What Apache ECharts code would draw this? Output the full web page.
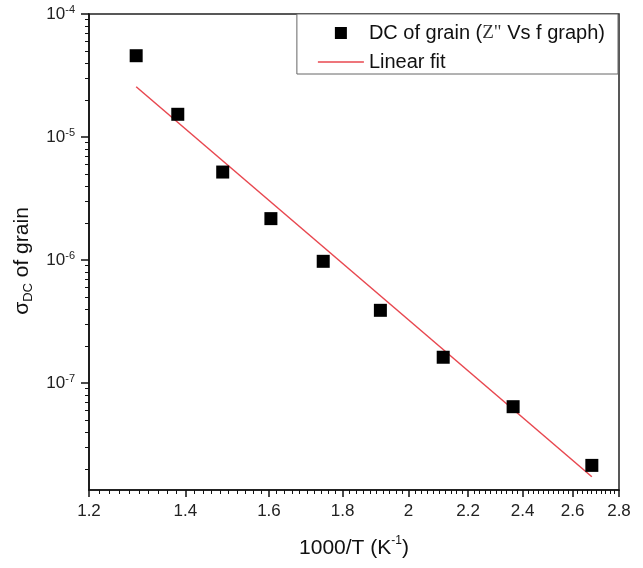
<!DOCTYPE html>
<html>
<head>
<meta charset="utf-8">
<script src="https://cdn.jsdelivr.net/npm/echarts@6/dist/echarts.min.js"></script>
<style>
  html, body { margin: 0; padding: 0; background: #fff; }
  #chart { width: 643px; height: 568px; }
</style>
</head>
<body>
<div id="chart"></div>
<script>
// Inverse temperature 1000/T (K^-1) and DC conductivity of the grain
const invT = [1.294, 1.383, 1.486, 1.605, 1.745, 1.912, 2.114, 2.364, 2.681];
const sigmaDC = [4.58e-5, 1.53e-5, 5.19e-6, 2.17e-6, 9.76e-7, 3.90e-7, 1.62e-7, 6.42e-8, 2.14e-8];

// Linear fit end points
const fitX = [1.294, 2.681];
const fitY = [2.56e-5, 1.73e-8];

// Axis ticks
const xMajorTicks = [1.2, 1.4, 1.6, 1.8, 2.0, 2.2, 2.4, 2.6, 2.8];
const yMajorTicks = [1e-7, 1e-6, 1e-5, 1e-4];
const xMin = 1.2, xMax = 2.8;
const yMin = 1.35e-8, yMax = 1e-4;

// minor ticks: every 0.02 on x, 2..9 per decade on y
const xMinorTicks = [];
for (let i = 1; i < 80; i++) {
  if (i % 10 !== 0) xMinorTicks.push(+(1.2 + i * 0.02).toFixed(3));
}
const yMinorTicks = [];
for (let e = -8; e <= -5; e++) {
  for (let k = 2; k <= 9; k++) {
    const v = +(k * Math.pow(10, e)).toPrecision(3);
    if (v >= yMin && v <= yMax) yMinorTicks.push(v);
  }
}

const seriesName = 'DC of grain (Z" Vs f graph)';
const fitName = 'Linear fit';
const FONT = '"Liberation Sans", Arial, sans-serif';
const FIT_COLOR = '#e8474f';

const chart = echarts.init(document.getElementById('chart'), null, { renderer: 'canvas' });

chart.setOption({
  animation: false,
  backgroundColor: '#fff',
  grid: { show: true, borderColor: '#222', borderWidth: 1.5, left: 89, top: 14, right: 24, bottom: 78 },
  legend: {
    right: 25,
    top: 14,
    orient: 'vertical',
    align: 'left',
    itemWidth: 46,
    itemHeight: 12,
    itemGap: 9,
    padding: [9, 13, 2, 21],
    borderColor: '#666',
    borderWidth: 1,
    backgroundColor: '#fff',
    data: [
      { name: seriesName, icon: 'path://M0,0L10,0L10,10L0,10Z' },
      { name: fitName, icon: 'path://M0,0L46,0L46,1.4L0,1.4Z' }
    ],
    textStyle: {
      fontFamily: FONT, fontSize: 20, color: '#111',
      rich: {
        z: { fontFamily: '"Liberation Serif", serif', fontSize: 19, color: '#333' }
      }
    },
    formatter: function (name) {
      if (name === seriesName) return 'DC of grain ({z|Z"} Vs f graph)';
      return name;
    }
  },
  xAxis: [
    {
      type: 'log', logBase: 10, min: xMin, max: xMax,
      position: 'bottom',
      name: '{n|1000/T (K}{s|-1}{n|)}',
      nameLocation: 'middle', nameGap: 45,
      nameTextStyle: {
        rich: {
          n: { fontFamily: FONT, fontSize: 21, color: '#111', lineHeight: 26 },
          s: { fontFamily: FONT, fontSize: 12, color: '#111', verticalAlign: 'top' }
        }
      },
      axisLine: { show: true, lineStyle: { color: '#111', width: 1.6 } },
      axisTick: { show: true, inside: false, length: 7, lineStyle: { color: '#111', width: 1.5 }, customValues: xMajorTicks },
      axisLabel: {
        show: true, margin: 13, fontFamily: FONT, fontSize: 17, color: '#222',
        customValues: xMajorTicks,
        formatter: function (v) { return String(+v.toFixed(2)); }
      },
      splitLine: { show: false }
    },
    {
      type: 'log', logBase: 10, min: xMin, max: xMax,
      position: 'bottom',
      axisLine: { show: false },
      axisTick: { show: true, inside: false, length: 4, lineStyle: { color: '#111', width: 1 }, customValues: xMinorTicks },
      axisLabel: { show: false },
      splitLine: { show: false }
    }
  ],
  yAxis: [
    {
      type: 'log', logBase: 10, min: yMin, max: yMax,
      position: 'left',
      name: '{n|σ}{sub|DC}{n| of grain}',
      nameLocation: 'middle', nameGap: 49, nameRotate: 90,
      nameTextStyle: {
        padding: [0, 18, 0, 0],
        rich: {
          n: { fontFamily: FONT, fontSize: 21, color: '#111', lineHeight: 26 },
          sub: { fontFamily: FONT, fontSize: 13, color: '#111', verticalAlign: 'bottom' }
        }
      },
      axisLine: { show: true, lineStyle: { color: '#111', width: 1.6 } },
      axisTick: { show: true, inside: false, length: 8, lineStyle: { color: '#111', width: 1.5 }, customValues: yMajorTicks },
      axisLabel: {
        show: true, margin: 14,
        customValues: yMajorTicks,
        formatter: function (v) {
          const e = Math.round(Math.log10(v));
          return '{b|10}{s|' + e + '}';
        },
        rich: {
          b: { fontFamily: FONT, fontSize: 17, color: '#222', lineHeight: 20 },
          s: { fontFamily: FONT, fontSize: 11, color: '#222', verticalAlign: 'top' }
        }
      },
      splitLine: { show: false }
    },
    {
      type: 'log', logBase: 10, min: yMin, max: yMax,
      position: 'left',
      axisLine: { show: false },
      axisTick: { show: true, inside: false, length: 4, lineStyle: { color: '#111', width: 1 }, customValues: yMinorTicks },
      axisLabel: { show: false },
      splitLine: { show: false }
    }
  ],
  series: [
    {
      name: fitName,
      type: 'line',
      xAxisIndex: 0, yAxisIndex: 0,
      data: fitX.map((x, i) => [x, fitY[i]]),
      showSymbol: false,
      symbol: 'none',
      lineStyle: { color: FIT_COLOR, width: 1.5 },
      itemStyle: { color: FIT_COLOR },
      z: 2
    },
    {
      name: seriesName,
      type: 'scatter',
      xAxisIndex: 0, yAxisIndex: 0,
      data: invT.map((x, i) => [x, sigmaDC[i]]),
      symbol: 'rect',
      symbolSize: 13,
      itemStyle: { color: '#000', opacity: 1 },
      z: 3
    }
  ]
});
</script>
</body>
</html>
